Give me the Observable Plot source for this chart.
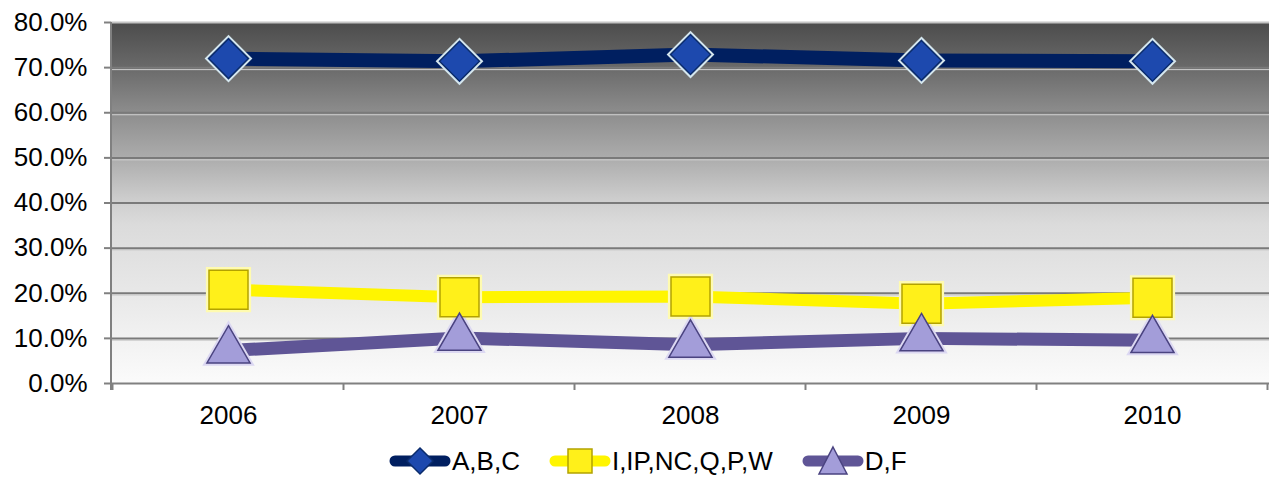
<!DOCTYPE html>
<html><head><meta charset="utf-8">
<script src="https://cdn.jsdelivr.net/npm/d3@7"></script>
<script src="https://cdn.jsdelivr.net/npm/@observablehq/plot@0.6"></script>
<style>
body{margin:0;background:#fff;font-family:"Liberation Sans",Arial,sans-serif;}
#legend{display:flex;align-items:center;height:42px;padding-left:389px;font-size:26px;color:#000;}
.item{display:flex;align-items:center;margin-right:29px;}
.item svg{display:block;margin-right:1px;}
</style></head><body>
<div id="chart"></div>
<div id="legend"></div>
<script>
const years = ["2006", "2007", "2008", "2009", "2010"];
const seriesNames = ["A,B,C", "I,IP,NC,Q,P,W", "D,F"];
const abcValues = [0.720, 0.714, 0.729, 0.716, 0.714];
const ipValues = [0.208, 0.191, 0.193, 0.177, 0.190];
const dfValues = [0.073, 0.101, 0.086, 0.100, 0.096];
const yTicks = [0, 0.1, 0.2, 0.3, 0.4, 0.5, 0.6, 0.7, 0.8];

const seriesValues = [abcValues, ipValues, dfValues];
const styles = [
  {line: "#001f60", fill: "#1d49ae", stroke: "#0b2c6c", glow: "#d4e6ee", symbol: "diamond2", r: 18, w: 14},
  {line: "#fff500", fill: "#fff01a", stroke: "#b3a200", glow: "#fffbb0", symbol: "square", r: 22, w: 12},
  {line: "#5f5596", fill: "#a39dd9", stroke: "#4a4380", glow: "#dcd8f2", symbol: "triangle", r: 16, w: 13}
];
const rows = [];
seriesNames.forEach((s, i) => years.forEach((y, j) => rows.push({series: s, si: i, year: y, value: seriesValues[i][j]})));

const defsMark = () => {
  const g = d3.create("svg:defs");
  const lg = g.append("linearGradient").attr("id", "plotBg").attr("x1", 0).attr("y1", 0).attr("x2", 0).attr("y2", 1);
  [[0, "#4c4c4c"], [0.125, "#6a6a6a"], [0.25, "#8d8d8d"], [0.375, "#acacac"], [0.5, "#d0d0d0"], [0.56, "#dbdbdb"], [0.75, "#e8e8e8"], [1, "#fbfbfb"]]
    .forEach(([o, c]) => lg.append("stop").attr("offset", o).attr("stop-color", c));
  const f = g.append("filter").attr("id", "glowBlur").attr("x", "-50%").attr("y", "-50%").attr("width", "200%").attr("height", "200%");
  f.append("feGaussianBlur").attr("stdDeviation", 3);
  return g.node();
};

const axisLines = (index, scales, values, dims) => {
  const g = d3.create("svg:g");
  const x = scales.x, y = scales.y;
  const step = x(years[1]) - x(years[0]);
  const y0 = y(0), yTop = y(0.8);
  g.append("line").attr("x1", dims.marginLeft).attr("x2", dims.marginLeft).attr("y1", yTop).attr("y2", y0 + 7)
    .attr("stroke", "#808080").attr("stroke-width", 2);
  const bounds = years.map(v => x(v) - step / 2).concat([x(years[years.length - 1]) + step / 2]);
  bounds.forEach(b => g.append("line").attr("x1", b).attr("x2", b).attr("y1", y0).attr("y2", y0 + 7)
    .attr("stroke", "#808080").attr("stroke-width", 2));
  return g.node();
};

const chart = Plot.plot({
  width: 1269,
  height: 440,
  marginLeft: 111,
  marginRight: 0,
  marginTop: 22,
  marginBottom: 57,
  style: {fontFamily: "'Liberation Sans', Arial, sans-serif", background: "transparent", color: "#000", overflow: "visible"},
  x: {type: "point", domain: years, padding: 0.5},
  y: {domain: [0, 0.8]},
  marks: [
    defsMark,
    Plot.frame({fill: "url(#plotBg)", stroke: null}),
    Plot.ruleY(yTicks.filter(v => v > 0 && v < 0.8), {stroke: "#d0d0d0", strokeWidth: 1, dy: 2}),
    Plot.ruleY(yTicks.filter(v => v > 0 && v < 0.8), {stroke: "#7a7a7a", strokeWidth: 2}),
    Plot.ruleY([0.8], {stroke: "#c4c4c4", strokeWidth: 2}),
    Plot.ruleY([0], {stroke: "#808080", strokeWidth: 2}),
    axisLines,
    Plot.lineY(rows, {x: "year", y: "value", z: "series", stroke: d => styles[d.si].line, strokeWidth: d => styles[d.si].w, strokeLinejoin: "round"}),
    ...styles.map((st, i) => Plot.dot(rows.filter(d => d.si === i), {x: "year", y: "value", symbol: st.symbol, r: st.r + 3.5, fill: st.glow, stroke: null, ariaLabel: "glow"})),
    ...styles.map((st, i) => Plot.dot(rows.filter(d => d.si === i), {x: "year", y: "value", symbol: st.symbol, r: st.r, fill: st.fill, stroke: st.stroke, strokeWidth: 1.5})),
    Plot.axisY(yTicks, {tickFormat: d3.format(".1%"), tickSize: 7, tickPadding: 17, fontSize: 26, stroke: "#808080", strokeWidth: 2, fill: "#000", label: null}),
    Plot.axisX({tickSize: 0, tickPadding: 22, fontSize: 26, fill: "#000", label: null})
  ]
});
d3.select(chart).selectAll('g[aria-label="glow"]').attr("filter", "url(#glowBlur)");
document.getElementById("chart").appendChild(chart);

const legend = d3.select("#legend");
const symPaths = {
  diamond2: "M31,6 L44,19 L31,32 L18,19 Z",
  square: "M19,7 L43,7 L43,31 L19,31 Z",
  triangle: "M31,5 L45,32 L17,32 Z"
};
seriesNames.forEach((name, i) => {
  const st = styles[i];
  const item = legend.append("div").attr("class", "item");
  const svg = item.append("svg").attr("width", 62).attr("height", 38);
  svg.append("line").attr("x1", 6).attr("x2", 56).attr("y1", 19).attr("y2", 19)
    .attr("stroke", st.line).attr("stroke-width", 11).attr("stroke-linecap", "round");
  svg.append("path").attr("d", symPaths[st.symbol]).attr("fill", st.fill).attr("stroke", st.stroke).attr("stroke-width", 1.5);
  item.append("span").text(name);
});
</script>
</body></html>
